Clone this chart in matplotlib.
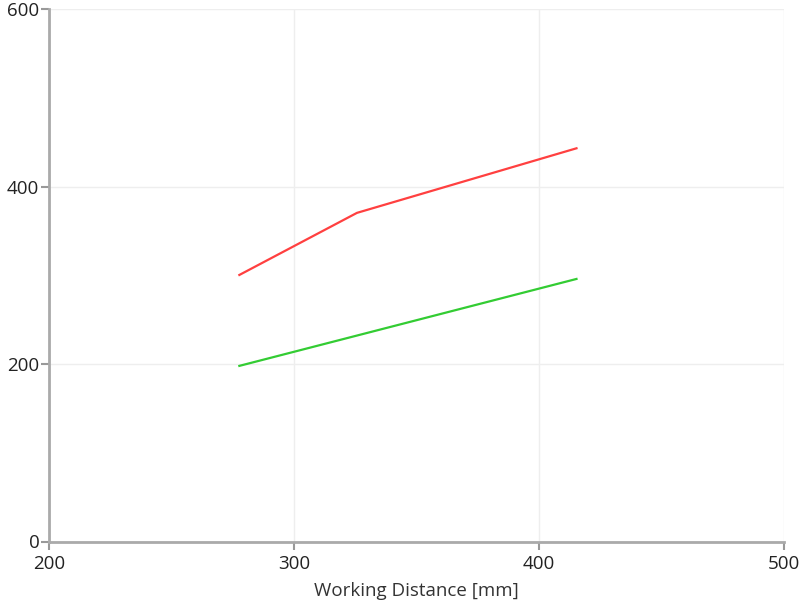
import matplotlib
matplotlib.use("Agg")
import matplotlib.pyplot as plt

red_x = [277.7, 325.7, 415.3]
red_y = [300.5, 370.5, 443.3]
green_x = [277.7, 415.3]
green_y = [198.0, 296.0]
x_ticks = [200, 300, 400, 500]
y_ticks = [0, 200, 400, 600]
x_label = "Working Distance [mm]"

plt.rcParams['font.family'] = ['Open Sans', 'DejaVu Sans']
fig = plt.figure(figsize=(8, 6.02), dpi=100)
ax = fig.add_axes([49/800, (602-541.5)/602, (784-49)/800, (541.5-9.3)/602])

ax.plot(red_x, red_y, color='#ff4040', lw=1.6)
ax.plot(green_x, green_y, color='#33cc33', lw=1.6)

ax.set_xlim(200, 500)
ax.set_ylim(0, 600)
ax.set_xticks(x_ticks)
ax.set_yticks(y_ticks)
ax.grid(True, color='#eeeeee', lw=1)
ax.set_axisbelow(True)
for s in ['top', 'right']:
    ax.spines[s].set_visible(False)
for s in ['left', 'bottom']:
    ax.spines[s].set_color('#aaaaaa')
    ax.spines[s].set_linewidth(2)
ax.tick_params(axis='both', colors='#999999', length=6, width=1.5, labelcolor='#222222', labelsize=13.5)
ax.tick_params(axis='x', pad=4)
ax.tick_params(axis='y', pad=1)
ax.set_xlabel(x_label, fontsize=13.5, color='#333333', labelpad=6)

fig.savefig('out.png', dpi=100)
